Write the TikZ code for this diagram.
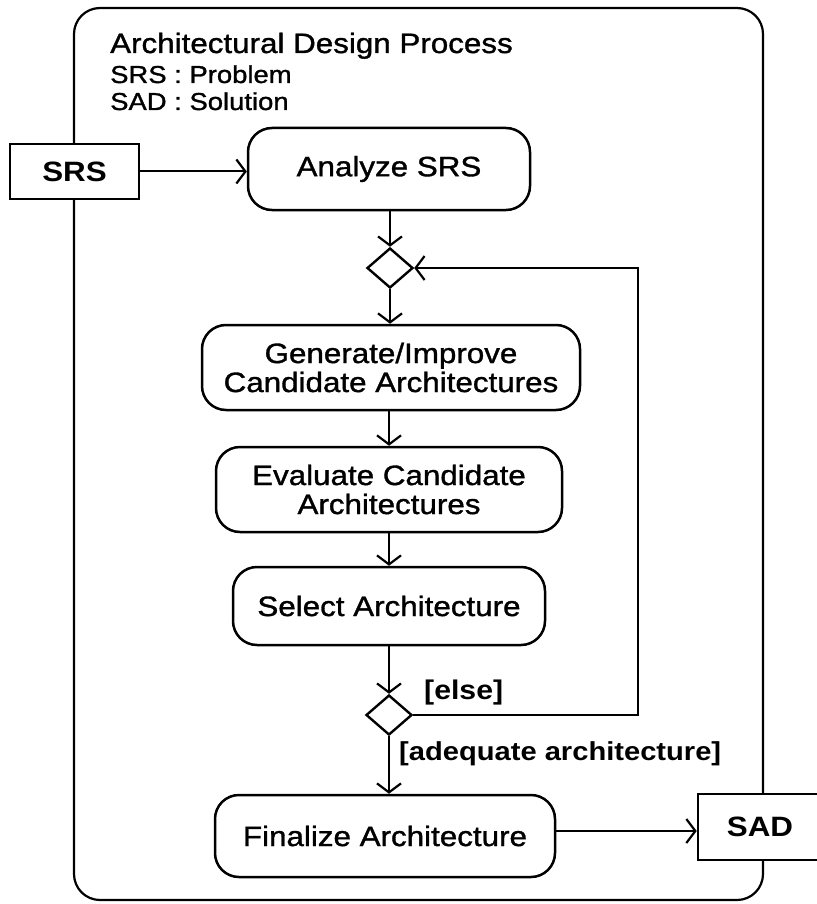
\documentclass[tikz,border=0pt]{standalone}
\usepackage{fontspec}
\setmainfont{Liberation Sans}[FakeStretch=1.12]
\newfontfamily\medfont{Liberation Sans}[FakeStretch=1.12,FakeBold=1.2]
\usetikzlibrary{shapes.geometric,arrows.meta}

\begin{document}
\begin{tikzpicture}[x=1pt,y=-1pt,
  act/.style={draw, line width=2.5pt, rounded corners=24pt, fill=white,
    align=center, inner sep=0pt, font=\medfont\fontsize{28}{29}\selectfont},
  artifact/.style={draw, line width=2.6pt, fill=white, inner sep=0pt,
    font=\bfseries\fontsize{28}{30}\selectfont},
  decision/.style={draw, diamond, line width=2.4pt, fill=white, inner sep=0pt,
    minimum width=46pt, minimum height=40pt},
  flow/.style={line width=2pt, -{Straight Barb[length=9pt,width=24pt,line width=2.2pt]}},
  guard/.style={font=\bfseries\fontsize{26}{28}\selectfont, inner sep=0pt, anchor=base west},
  caption/.style={inner sep=0pt, anchor=base west}]
\useasboundingbox (0,0) rectangle (816,904);

% enclosing activity frame
\draw[line width=2.2pt, rounded corners=26pt] (74,8) rectangle (763,900);

\node[caption, font=\medfont\fontsize{28}{30}\selectfont] (title) at (110,53) {Architectural Design Process};
\node[caption, font=\medfont\fontsize{24.5}{26}\selectfont] (prob) at (110,83) {SRS : Problem};
\node[caption, font=\medfont\fontsize{24.5}{26}\selectfont] (sol) at (110,110) {SAD : Solution};

% input and output artifacts
\node[artifact, minimum width=129pt, minimum height=55pt] (srs) at (74.5,171.5) {SRS};
\node[artifact, minimum width=140pt, minimum height=66pt] (sad) at (768,827) {SAD\hspace*{16pt}};

% activities
\node[act, minimum width=282pt, minimum height=82pt] (analyze) at (389,169) {Analyze SRS};
\node[decision] (merge) at (390,268) {};
\node[act, minimum width=378pt, minimum height=85pt] (gen) at (391,367.5) {Generate/Improve\\Candidate Architectures};
\node[act, minimum width=346pt, minimum height=85pt] (eval) at (389,489.5) {Evaluate Candidate\\Architectures};
\node[act, minimum width=312pt, minimum height=78pt] (sel) at (389,606) {Select Architecture};
\node[decision] (check) at (389,715) {};
\node[act, minimum width=340pt, minimum height=82pt] (fin) at (385,836) {Finalize Architecture};

% guards
\node[guard, font=\bfseries\fontsize{27}{29}\selectfont] (elsel) at (424,699) {[else]};
\node[guard] (adeq) at (399,760) {[adequate architecture]};

% control flow
\draw[flow] (srs.east) -- (srs.east -| analyze.west);
\draw[flow] (analyze.south -| merge.north) -- (merge.north);
\draw[flow] (merge.south) -- (merge.south |- gen.north);
\draw[flow] (gen.south -| eval.north) -- (eval.north);
\draw[flow] (eval.south) -- (sel.north);
\draw[flow] (sel.south -| check.north) -- (check.north);
\draw[flow] (check.east) -- (638,715) -- (638,268) -- (merge.east);
\draw[flow] (check.south) -- (check.south |- fin.north);
\draw[flow] (fin.east |- 0,831) -- (sad.west |- 0,831);
\end{tikzpicture}
\end{document}
